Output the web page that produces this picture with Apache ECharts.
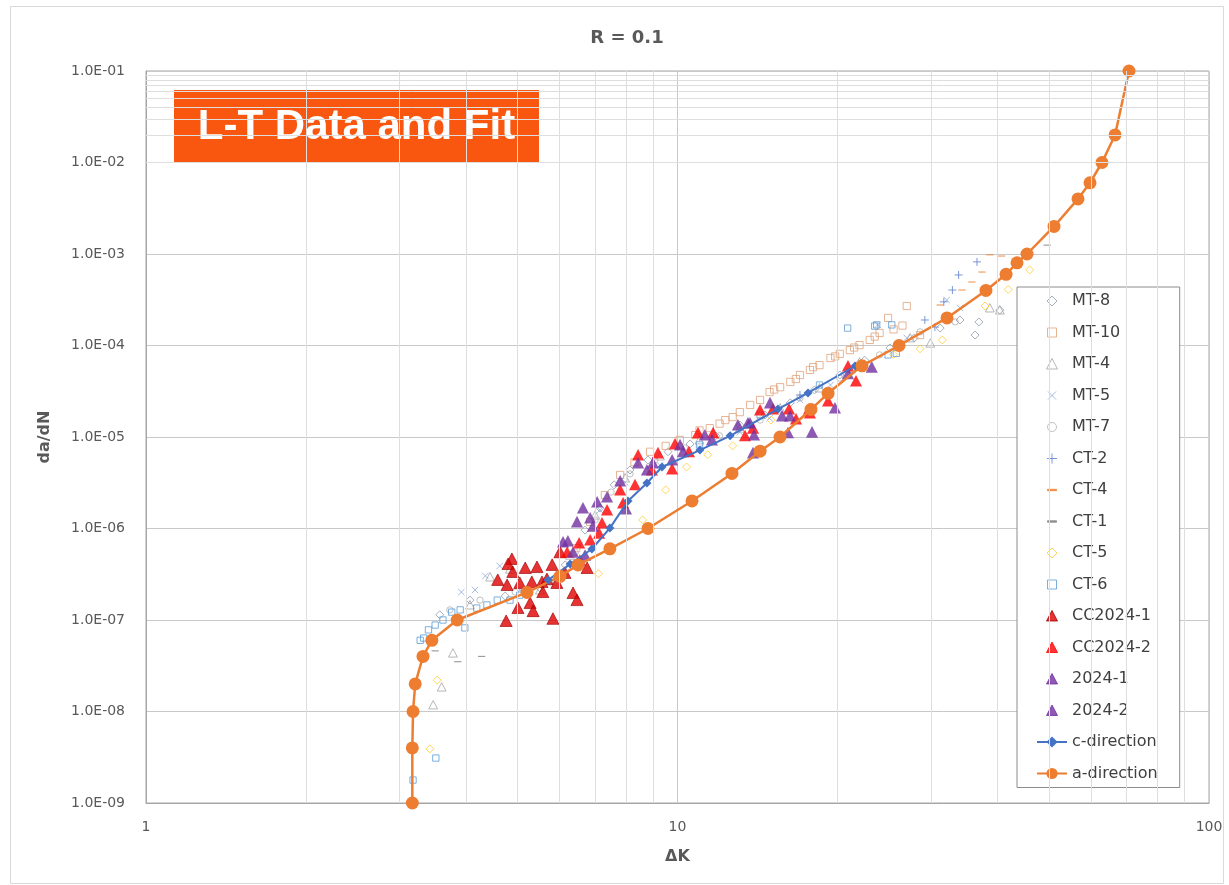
<!DOCTYPE html>
<html><head><meta charset="utf-8">
<script src="https://cdn.jsdelivr.net/npm/echarts@6/dist/echarts.min.js"></script>
<style>html,body{margin:0;padding:0;background:#fff}#c{width:1229px;height:885px}</style>
</head><body><div id="c"></div>
<script>
const chartTitle = 'R = 0.1';
const badgeText = 'L-T Data and Fit';
const xName = 'ΔK';
const yName = 'da/dN';
const xMin = 1, xMax = 100;
const yMin = 1e-9, yMax = 1e-1;
const xMinorGrid = [2,3,4,5,6,7,8,9,20,30,40,50,60,70,80,90];
const yMinorMantissa = [2,3,4,5,6,7,8,9];
const yDecadeExp = [-9,-8,-7,-6,-5,-4,-3,-2];

const mt8 = [[3.57,1.14e-7],[4.07,1.65e-7],[4.74,1.83e-7],[5.51,2.24e-7],[6.15,4.0e-7],[6.7,9.6e-7],[7.15,1.67e-6],[7.6,3.0e-6],[8.14,4.36e-6],[8.8,5.6e-6],[9.6,6.9e-6],[10.56,8.4e-6],[11.8,1.03e-5],[13.1,1.35e-5],[14.6,1.74e-5],[16.3,2.36e-5],[18.1,3.27e-5],[20.2,4.76e-5],[22.5,6.9e-5],[25.1,9.4e-5],[27.9,1.21e-4],[31.2,1.55e-4],[34.0,1.9e-4],[36.3,1.3e-4],[36.9,1.81e-4],[40.4,2.44e-4]];
const mt10 = [[6.45,6.1e-7],[6.85,1.18e-6],[7.3,2.32e-6],[7.8,3.85e-6],[8.3,5.3e-6],[8.88,6.9e-6],[9.5,8.0e-6],[10.1,9.3e-6],[10.8,1.05e-5],[11.0,1.18e-5],[11.5,1.25e-5],[12.0,1.4e-5],[12.3,1.53e-5],[12.7,1.65e-5],[13.1,1.87e-5],[13.7,2.24e-5],[14.3,2.54e-5],[14.9,3.1e-5],[15.2,3.3e-5],[15.6,3.5e-5],[16.3,4.0e-5],[16.7,4.3e-5],[17.0,4.76e-5],[17.75,5.4e-5],[18.0,5.8e-5],[18.5,6.1e-5],[19.4,7.3e-5],[19.8,7.6e-5],[20.2,8.1e-5],[21.1,8.9e-5],[21.5,9.5e-5],[22.0,1.01e-4],[23.0,1.15e-4],[23.5,1.25e-4],[24.0,1.37e-4],[25.5,1.5e-4],[26.5,1.65e-4],[24.9,2.0e-4],[27.0,2.7e-4],[28.6,1.3e-4]];
const mt4 = [[3.47,1.18e-8],[3.6,1.85e-8],[3.78,4.35e-8],[4.07,1.46e-7],[4.44,2.95e-7],[4.84,3.6e-7],[5.51,2.13e-7],[6.28,5.1e-7],[7.0,1.4e-6],[7.97,3.56e-6],[9.27,6.2e-6],[11.0,9.3e-6],[13.1,1.25e-5],[15.6,2.07e-5],[18.5,3.43e-5],[22.0,6.6e-5],[27.4,1.21e-4],[29.9,1.06e-4],[38.7,2.57e-4],[40.4,2.44e-4]];
const mt5 = [[3.92,2.02e-7],[4.16,2.13e-7],[4.35,3.03e-7],[4.63,3.9e-7],[5.05,2.13e-7],[5.9,2.74e-7],[6.55,6.6e-7],[7.15,1.59e-6],[7.97,3.2e-6],[9.27,4.9e-6],[11.0,7.6e-6],[13.1,1.13e-5],[14.9,1.6e-5],[17.0,2.54e-5],[19.4,3.7e-5],[22.0,5.7e-5],[23.8,1.68e-4],[27.0,1.21e-4],[32.1,3.14e-4],[34.0,2.57e-4]];
const mt7 = [[3.73,1.29e-7],[4.25,1.65e-7],[4.95,2.02e-7],[5.76,2.6e-7],[6.42,5.5e-7],[7.0,1.24e-6],[7.5,2.5e-6],[8.14,3.95e-6],[9.07,5.6e-6],[10.3,7.6e-6],[12.0,1.03e-5],[14.3,1.53e-5],[17.0,2.67e-5],[20.2,4.4e-5],[24.0,7.9e-5],[28.6,1.41e-4],[33.3,1.81e-4]];
const ct2 = [[17.0,2.88e-5],[21.1,5.1e-5],[26.2,1.01e-4],[29.2,1.9e-4],[30.5,1.59e-4],[31.7,3.0e-4],[32.9,4.04e-4],[33.8,5.9e-4],[36.6,8.2e-4]];
const ct4 = [[31.2,2.77e-4],[34.3,4.04e-4],[35.8,4.94e-4],[37.4,6.35e-4],[38.7,9.8e-4],[40.7,9.5e-4]];
const ct1 = [[3.5,4.6e-8],[3.86,3.5e-8],[4.28,4.0e-8],[49.6,1.25e-3]];
const ct5 = [[3.42,3.9e-9],[3.53,2.2e-8],[7.1,3.2e-7],[8.6,1.24e-6],[9.5,2.64e-6],[10.4,4.7e-6],[11.4,6.4e-6],[12.7,8.0e-6],[15.0,1.53e-5],[25.5,8.0e-5],[28.6,9.2e-5],[31.5,1.15e-4],[37.9,2.7e-4],[41.9,4.1e-4],[46.0,6.7e-4]];
const ct6 = [[3.18,1.78e-9],[3.51,3.1e-9],[3.28,6.0e-8],[3.33,6.35e-8],[3.4,7.8e-8],[3.5,8.8e-8],[3.62,1.0e-7],[3.76,1.22e-7],[3.9,1.29e-7],[3.98,8.2e-8],[4.19,1.35e-7],[4.38,1.46e-7],[4.58,1.65e-7],[4.84,1.65e-7],[5.05,1.87e-7],[11.0,8.2e-6],[14.3,1.74e-5],[18.5,3.7e-5],[20.9,1.55e-4],[23.5,1.63e-4],[23.7,1.68e-4],[24.9,7.9e-5],[25.3,1.68e-4],[25.8,8.2e-5]];
const cc2024a = [[4.88,4.64e-7],[4.80,4.09e-7],[5.17,3.7e-7],[5.44,3.79e-7],[5.81,4.0e-7],[4.90,3.35e-7],[4.59,2.74e-7],[4.78,2.41e-7],[5.05,2.54e-7],[5.32,2.6e-7],[5.56,2.6e-7],[5.68,2.8e-7],[5.93,2.54e-7],[5.58,2.02e-7],[5.28,1.53e-7],[5.01,1.35e-7],[5.35,1.25e-7],[6.36,1.97e-7],[6.47,1.65e-7],[4.76,9.75e-8],[5.83,1.03e-7],[6.01,5.5e-7],[6.76,3.7e-7],[6.14,3.27e-7]];
const cc2024b = [[8.43,6.35e-6],[9.19,6.7e-6],[9.89,8.4e-6],[10.93,1.11e-5],[11.67,1.11e-5],[13.4,1.03e-5],[13.87,1.25e-5],[8.32,3.0e-6],[7.80,2.64e-6],[7.90,1.9e-6],[7.37,1.59e-6],[7.21,1.15e-6],[7.12,8.9e-7],[6.85,7.5e-7],[6.53,6.95e-7],[6.20,5.5e-7],[6.55,4.5e-7],[9.77,4.47e-6],[10.51,6.9e-6],[8.95,4.36e-6],[20.93,5.97e-5],[21.67,4.1e-5],[19.2,2.47e-5],[17.68,2.02e-5],[16.71,1.57e-5],[16.21,2.02e-5],[15.12,2.02e-5],[14.3,1.97e-5],[17.75,1.83e-5]];
const s2024a = [[8.43,5.2e-6],[8.76,4.36e-6],[8.99,5.2e-6],[9.77,5.6e-6],[10.11,8.2e-6],[10.24,6.9e-6],[11.26,1.05e-5],[11.61,9.3e-6],[12.99,1.35e-5],[13.57,1.42e-5],[13.87,6.7e-6],[7.80,3.3e-6],[7.06,1.95e-6],[7.37,2.21e-6],[6.64,1.67e-6],[6.47,1.18e-6],[6.85,1.3e-6],[6.93,1.06e-6],[8.0,1.63e-6],[6.09,7.1e-7],[6.22,7.3e-7],[6.70,5.1e-7],[6.36,5.5e-7]];
const s2024b = [[23.2,5.8e-5],[20.93,4.9e-5],[19.78,2.07e-5],[17.91,1.13e-5],[16.28,1.7e-5],[15.73,1.7e-5],[14.93,2.36e-5],[13.69,1.42e-5],[13.93,1.05e-5],[16.14,1.11e-5]];
const cDir = [[5.71,2.74e-7],[6.28,4.09e-7],[6.9,5.97e-7],[7.46,1.01e-6],[8.07,2.0e-6],[8.76,3.14e-6],[9.35,4.7e-6],[11.02,7.2e-6],[12.56,1.03e-5],[15.45,2.02e-5],[17.6,3.03e-5],[21.58,5.97e-5]];
const aDir = [[3.17,1e-9],[3.17,4e-9],[3.18,1e-8],[3.21,2e-8],[3.32,4e-8],[3.45,6e-8],[3.85,1e-7],[5.21,2e-7],[6.01,3e-7],[6.5,4e-7],[7.46,6e-7],[8.8,1e-6],[10.65,2e-6],[12.66,4e-6],[14.3,7e-6],[15.59,1e-5],[17.83,2e-5],[19.2,3e-5],[22.24,6e-5],[26.11,1e-4],[32.14,2e-4],[38.05,4e-4],[41.51,6e-4],[43.53,8e-4],[45.46,1e-3],[51.1,2e-3],[56.69,4e-3],[59.72,6e-3],[62.9,1e-2],[66.56,2e-2],[70.71,1e-1]];

const FONT = 'DejaVu Sans';
const TXT = '#595959';
// symbol shapes drawn inside a 14x14 box (shape occupies 2..12), so legend icons stay small
const BOX = 'M0,0M14,14';
const P = {
  diamond: 'path://' + BOX + 'M7,2L12,7L7,12L2,7Z',
  rect: 'path://' + BOX + 'M2.5,2.5H11.5V11.5H2.5Z',
  triangle: 'path://' + BOX + 'M7,1.5L12.5,12H1.5Z',
  circle: 'path://' + BOX + 'M2.5,7A4.5,4.5,0,1,1,11.5,7A4.5,4.5,0,1,1,2.5,7Z',
  cross: 'path://' + BOX + 'M3,3L11,11M11,3L3,11',
  plus: 'path://' + BOX + 'M7,2V12M2,7H12',
  dash: 'path://' + BOX + 'M2.5,6.3H11.5V7.7H2.5Z'
};
const K = 1.4; // box / shape ratio

function hollow(name, data, symbol, size, color) {
  return {type:'scatter', name, data, symbol, symbolSize:size * K,
    itemStyle:{color:'rgba(255,255,255,0)', borderColor:color, borderWidth:1}};
}
function filled(name, data, symbol, size, color, border) {
  return {type:'scatter', name, data, symbol, symbolSize:size * K,
    itemStyle:{color, borderColor:border||color, borderWidth:border?0.8:0}};
}

const yMinorGrid = [];
yDecadeExp.forEach(e => yMinorMantissa.forEach(m => yMinorGrid.push(m * Math.pow(10, e))));

const series = [
  {type:'line', name:'_grid', data:[], z:1, silent:true,
   markLine:{silent:true, symbol:'none', animation:false, label:{show:false},
     lineStyle:{color:'#DEDEDE', width:1, type:'solid'},
     emphasis:{disabled:true},
     data:[...xMinorGrid.map(v=>({xAxis:v})), ...yMinorGrid.map(v=>({yAxis:v}))]}},
  hollow('MT-8', mt8, P.diamond, 8, '#8C9BB0'),
  hollow('MT-10', mt10, P.rect, 8, '#E0A27A'),
  hollow('MT-4', mt4, P.triangle, 8, '#A5A5A5'),
  hollow('MT-5', mt5, P.cross, 8, '#8FAADC'),
  hollow('MT-7', mt7, P.circle, 7, '#B0B0B0'),
  hollow('CT-2', ct2, P.plus, 8, '#5B7FD0'),
  filled('CT-4', ct4, P.dash, 8, '#ED7D31'),
  filled('CT-1', ct1, P.dash, 8, '#7F7F7F'),
  hollow('CT-5', ct5, P.diamond, 8, '#FFCC33'),
  hollow('CT-6', ct6, P.rect, 7, '#5B9BD5'),
  filled('CC2024-1', cc2024a, P.triangle, 11, '#E00000', '#9A0000'),
  filled('CC2024-2', cc2024b, P.triangle, 11, '#FF0000'),
  filled('2024-1', s2024a, P.triangle, 11, '#7030A0'),
  filled('2024-2', s2024b, P.triangle, 11, '#7030A0'),
  {type:'line', name:'c-direction', data:cDir, symbol:'diamond', symbolSize:9,
   lineStyle:{color:'#4472C4', width:2}, itemStyle:{color:'#4472C4'}},
  {type:'line', name:'a-direction', data:aDir, symbol:'circle', symbolSize:13,
   lineStyle:{color:'#ED7D31', width:2.5}, itemStyle:{color:'#ED7D31'}}
];

const legendNames = ['MT-8','MT-10','MT-4','MT-5','MT-7','CT-2','CT-4','CT-1','CT-5','CT-6','CC2024-1','CC2024-2','2024-1','2024-2','c-direction','a-direction'];

function yFmt(v) {
  const e = Math.round(Math.log10(v));
  return '1.0E' + (e < 0 ? '-' : '+') + String(Math.abs(e)).padStart(2, '0');
}

const chart = echarts.init(document.getElementById('c'), null, {renderer:'canvas'});
chart.setOption({
  animation:false,
  backgroundColor:'#fff',
  title:{text:chartTitle, left:622, top:24, textAlign:'center',
    textStyle:{fontFamily:FONT, fontSize:18, fontWeight:'bold', color:TXT}},
  grid:{left:146, right:20, top:71, bottom:82, show:true, borderColor:'#A6A6A6', borderWidth:1, containLabel:false},
  legend:{
    orient:'vertical', left:1017, top:287, data:legendNames,
    itemWidth:30, itemHeight:14, itemGap:11.5,
    padding:[4,22,4,19],
    symbolKeepAspect:true,
    backgroundColor:'#fff', borderColor:'#8C8C8C', borderWidth:1,
    textStyle:{fontFamily:FONT, fontSize:16, color:'#404040', lineHeight:20},
    itemStyle:{borderWidth:1},
    selectedMode:false
  },
  xAxis:{type:'log', logBase:10, min:xMin, max:xMax, interval:1,
    name:xName, nameLocation:'middle', nameGap:46,
    nameTextStyle:{fontFamily:FONT, fontSize:16, fontWeight:'bold', color:TXT},
    axisLine:{show:true, lineStyle:{color:'#A6A6A6'}},
    axisTick:{show:false},
    axisLabel:{fontFamily:FONT, fontSize:14, color:TXT, margin:17},
    splitLine:{show:true, lineStyle:{color:'#C8C8C8', width:1}},
    minorTick:{show:false}, minorSplitLine:{show:false}},
  yAxis:{type:'log', logBase:10, min:yMin, max:yMax, interval:1,
    name:yName, nameLocation:'middle', nameGap:93, nameRotate:90,
    nameTextStyle:{fontFamily:FONT, fontSize:16, fontWeight:'bold', color:TXT},
    axisLine:{show:true, lineStyle:{color:'#A6A6A6'}},
    axisTick:{show:false},
    axisLabel:{fontFamily:FONT, fontSize:14, color:TXT, margin:21, formatter:yFmt},
    splitLine:{show:true, lineStyle:{color:'#C8C8C8', width:1}},
    minorTick:{show:false}, minorSplitLine:{show:false}},
  graphic:[
    {type:'rect', left:8, top:4, shape:{width:1213, height:877}, silent:true, z:-10,
     style:{fill:'none', stroke:'#D9D9D9', lineWidth:1}},
    {type:'group', left:174, top:90, z:100, children:[
      {type:'rect', shape:{x:0, y:0, width:365, height:72}, style:{fill:'#F9570F'}},
      {type:'text', x:182.5, y:37, style:{text:badgeText, fill:'#fff', align:'center', verticalAlign:'middle',
        font:'bold 42px "Liberation Sans", Arial, sans-serif'}}
    ]}
  ],
  series
});
</script></body></html>
